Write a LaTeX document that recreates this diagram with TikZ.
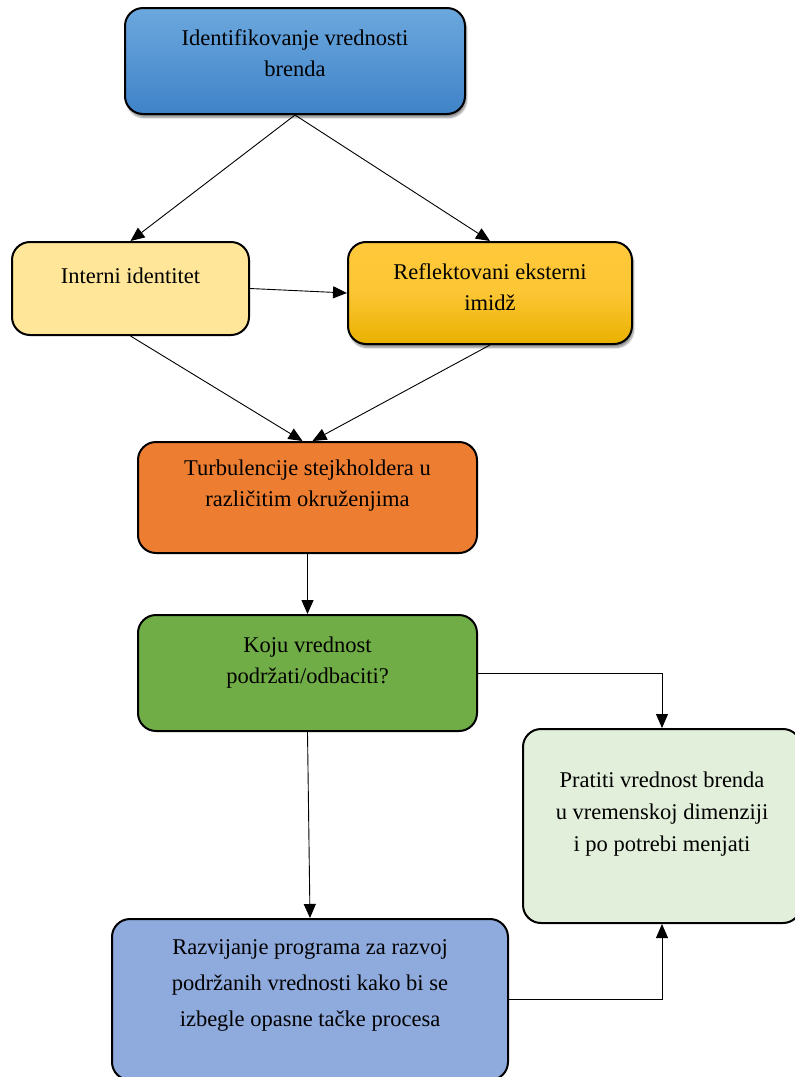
\documentclass[tikz,border=0pt]{standalone}
\usepackage{fontspec}
\setmainfont{Liberation Serif}
\usetikzlibrary{arrows.meta,shadows.blur}
\definecolor{cTopA}{HTML}{6CA8DE}
\definecolor{cTopB}{HTML}{3F83C8}
\definecolor{cInt}{HTML}{FFE699}
\definecolor{cRefA}{HTML}{FFC93C}
\definecolor{cRefB}{HTML}{E9B100}
\definecolor{cTurb}{HTML}{ED7D31}
\definecolor{cKoju}{HTML}{70AD47}
\definecolor{cPrat}{HTML}{E2EFDA}
\definecolor{cRazv}{HTML}{8FAADC}
\tikzset{
  boxnode/.style={draw=black, line width=2pt, rounded corners=18pt, inner sep=0pt},
  shadowed/.style={blur shadow={shadow blur steps=6, shadow xshift=1.5pt, shadow yshift=-3.5pt, shadow opacity=45}},
  txt/.style={align=center, font=\fontsize{22.5}{31}\selectfont, inner sep=0pt},
  conn/.style={draw=black, line width=0.9pt, -{Triangle[length=14pt,width=12pt]}}
}
\begin{document}
\begin{tikzpicture}[x=1pt,y=-1pt]
\useasboundingbox (0,0) rectangle (795,1077);
\begin{scope}
\clip (0,0) rectangle (795,1077);
\node[boxnode, shadowed, top color=cTopA, bottom color=cTopB, minimum width=340pt, minimum height=106pt] (top) at (295,61) {};
\node[boxnode, fill=cInt, minimum width=237pt, minimum height=93pt] (int) at (130.5,288.5) {};
\node[boxnode, shadowed, top color=cRefA, bottom color=cRefB, middle color=cRefA!85!cRefB, minimum width=284pt, minimum height=102pt] (ref) at (490,293) {};
\node[boxnode, fill=cTurb, minimum width=339pt, minimum height=111pt] (turb) at (307.5,497.5) {};
\node[boxnode, fill=cKoju, minimum width=339pt, minimum height=116pt] (koju) at (307.5,673) {};
\node[boxnode, fill=cPrat, minimum width=278pt, minimum height=194pt] (prat) at (662,826) {};
\node[boxnode, fill=cRazv, minimum width=396pt, minimum height=161pt] (razv) at (310,999.5) {};
\end{scope}

\node[txt] (ttop) at (295,53) {Identifikovanje vrednosti\\brenda};
\node[txt] (tint) at (130.5,276) {Interni identitet};
\node[txt] (tref) at (490,287) {Reflektovani eksterni\\imidž};
\node[txt] (tturb) at (307.5,486) {Turbulencije stejkholdera u\\različitim okruženjima};
\node[txt] (tkoju) at (307.5,663) {Koju vrednost\\podržati/odbaciti?};
\node[txt, font=\fontsize{22.5}{32}\selectfont] (tprat) at (662,814) {Pratiti vrednost brenda\\u vremenskoj dimenziji\\i po potrebi menjati};
\node[txt, font=\fontsize{22.5}{36}\selectfont] (trazv) at (310,985) {Razvijanje programa za razvoj\\podržanih vrednosti kako bi se\\izbegle opasne tačke procesa};

\draw[conn] (top.south) -- (int.north);
\draw[conn] (top.south) -- (ref.north);
\draw[conn] (int.east) -- (ref.west);
\draw[conn] (int.south) -- ([xshift=-5pt]turb.north);
\draw[conn] (ref.south) -- ([xshift=5pt]turb.north);
\draw[conn] (turb.south) -- (koju.north);
\draw[conn] (koju.east) -| (prat.north);
\draw[conn] (koju.south) -- (razv.north);
\draw[conn] (razv.east) -| (prat.south);
\end{tikzpicture}
\end{document}
